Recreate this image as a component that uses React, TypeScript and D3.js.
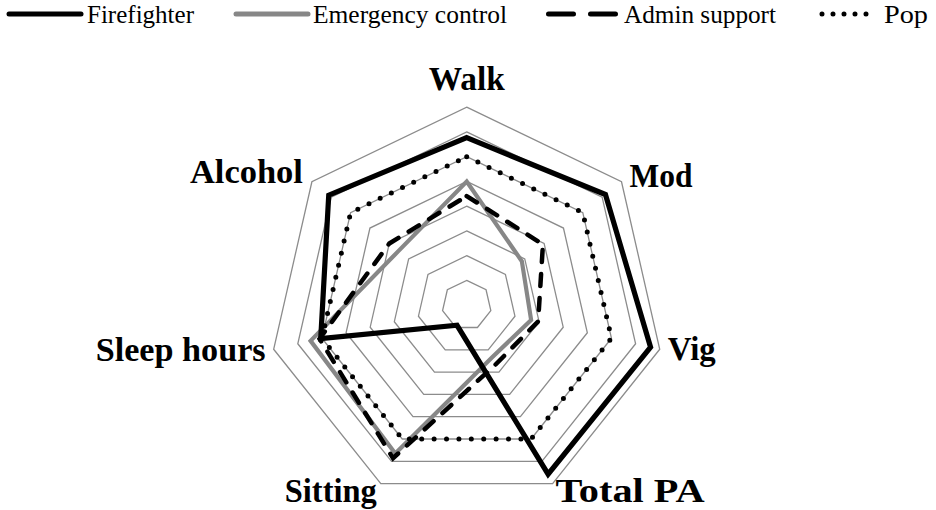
import React from "react";
import * as d3 from "d3";

const axes = ["Walk", "Mod", "Vig", "Total PA", "Sitting", "Sleep hours", "Alcohol"];
const firefighter = [6.77, 7.17, 7.62, 7.58, 0.9, 6.05, 7.13];
const emergencyControl = [5.0, 2.85, 2.67, 2.35, 6.65, 6.47, 3.52];
const adminSupport = [4.41, 3.94, 2.96, 2.67, 6.86, 6.1, 4.0];
const pop = [6, 6, 6, 6, 6, 6, 6];
const gridLevels = [1, 2, 3, 4, 5, 6, 7, 8];
const maxValue = 8;
const seriesNames = ["Firefighter", "Emergency control", "Admin support", "Pop"];

const W = 936;
const H = 510;
const cx = 466.7;
const cy = 305.2;
const R = 198;

const FONT = "'Liberation Serif', 'Times New Roman', serif";

export default function App() {
  const r = d3.scaleLinear().domain([0, maxValue]).range([0, R]);
  const angle = d3
    .scalePoint<string>()
    .domain(axes)
    .range([0, 2 * Math.PI * (axes.length - 1) / axes.length]);

  const radial = d3
    .lineRadial<number>()
    .angle((_, i) => angle(axes[i]) as number)
    .radius((v) => r(v))
    .curve(d3.curveLinearClosed);

  const styles = [
    { data: emergencyControl, stroke: "#878787", width: 4.2, dash: undefined, cap: "round" },
    { data: firefighter, stroke: "#000", width: 5.2, dash: undefined, cap: "round" },
    { data: adminSupport, stroke: "#000", width: 4.5, dash: "12 12", cap: "round" },
    { data: pop, stroke: "#000", width: 5, dash: "0 12.4", cap: "round" },
  ];

  // label positions: relative to vertex at outer ring
  const labelInfo = [
    { anchor: "middle", dx: 0, dy: -17, len: 76 },
    { anchor: "start", dx: 8, dy: 5, len: 63 },
    { anchor: "start", dx: 8, dy: 11, len: 48 },
    { anchor: "start", dx: 3, dy: 18, len: 149 },
    { anchor: "end", dx: -4, dy: 18, len: 92 },
    { anchor: "end", dx: -8, dy: 12, len: 170 },
    { anchor: "end", dx: -9, dy: 1, len: 113 },
  ];

  const legendItems = [
    { x1: 9, x2: 81, tx: 87, tl: 107, stroke: "#000", width: 5, dash: undefined },
    { x1: 236, x2: 308, tx: 313, tl: 194, stroke: "#878787", width: 5, dash: undefined },
    { x1: 548.5, x2: 615.5, tx: 624, tl: 152, stroke: "#000", width: 5, dash: "25 17" },
    { x1: 822, x2: 877, tx: 884, tl: 44, stroke: "#000", width: 5, dash: "0 11" },
  ];

  return (
    <svg
      width={W}
      height={H}
      style={{ position: "absolute", left: 0, top: 0, background: "#fff" }}
    >
      <rect x={0} y={0} width={W} height={H} fill="#fff" />
      {/* legend */}
      {legendItems.map((l, i) => (
        <g key={i}>
          <line
            x1={l.x1}
            x2={l.x2}
            y1={14}
            y2={14}
            stroke={l.stroke}
            strokeWidth={l.width}
            strokeDasharray={l.dash}
            strokeLinecap="round"
          />
          <text
            x={l.tx}
            y={23}
            fontFamily={FONT}
            fontSize={25}
            textLength={l.tl}
            lengthAdjust="spacingAndGlyphs"
            fill="#000"
          >
            {seriesNames[i]}
          </text>
        </g>
      ))}
      <g transform={`translate(${cx},${cy})`}>
        {gridLevels.map((lv) => (
          <path
            key={lv}
            d={radial(axes.map(() => lv)) as string}
            fill="none"
            stroke="#8c8c8c"
            strokeWidth={1.3}
          />
        ))}
        {styles.map((s, i) => (
          <path
            key={i}
            d={radial(s.data) as string}
            fill="none"
            stroke={s.stroke}
            strokeWidth={s.width}
            strokeDasharray={s.dash}
            strokeLinecap={s.cap as any}
            strokeLinejoin="miter"
          />
        ))}
        {axes.map((a, i) => {
          const ang = angle(a) as number;
          const x = Math.sin(ang) * r(maxValue);
          const y = -Math.cos(ang) * r(maxValue);
          const li = labelInfo[i];
          return (
            <text
              key={a}
              x={x + li.dx}
              y={y + li.dy}
              textAnchor={li.anchor as any}
              fontFamily={FONT}
              fontWeight="bold"
              fontSize={33}
              textLength={li.len}
              lengthAdjust="spacingAndGlyphs"
              fill="#000"
            >
              {a}
            </text>
          );
        })}
      </g>
    </svg>
  );
}
